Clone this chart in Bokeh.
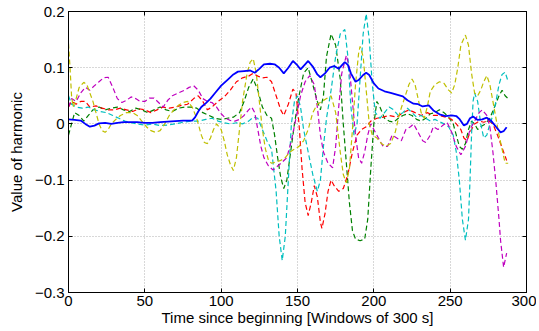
from bokeh.plotting import figure
from bokeh.models import Range1d, LinearAxis, FixedTicker, CustomJSTickFormatter
from bokeh.embed import file_html
from bokeh.resources import INLINE

# ---- data ----
x_ticks = [0, 50, 100, 150, 200, 250, 300]
y_ticks = [-0.3, -0.2, -0.1, 0.0, 0.1, 0.2]
y_tick_labels = ["\u22120.3", "\u22120.2", "\u22120.1", "0", "0.1", "0.2"]

blue_x = [0, 4, 8, 11, 14, 17, 20, 24, 28, 32, 36, 40, 45, 50, 55, 60, 65, 70, 75, 78, 81, 83, 85, 87, 90, 93, 96, 100, 104, 108, 111, 115, 119, 122, 125, 128, 132, 135, 138, 141, 144, 147, 150, 152, 155, 157, 160, 163, 165, 168, 171, 174, 177, 179, 181, 183, 185, 188, 190, 193, 195, 197, 200, 203, 207, 211, 215, 219, 222, 226, 229, 232, 236, 239, 243, 247, 251, 254, 256, 259, 261, 263, 265, 268, 271, 274, 277, 280, 283, 285, 287]
blue_y = [0.008, 0.007, 0.006, 0.0, -0.005, -0.003, 0.001, 0.002, 0.0, 0.002, 0.003, 0.003, 0.003, 0.002, 0.002, 0.003, 0.004, 0.005, 0.006, 0.006, 0.006, 0.012, 0.022, 0.03, 0.037, 0.045, 0.055, 0.068, 0.078, 0.088, 0.093, 0.094, 0.095, 0.091, 0.098, 0.106, 0.107, 0.106, 0.1, 0.09, 0.1, 0.112, 0.104, 0.097, 0.106, 0.112, 0.102, 0.088, 0.083, 0.09, 0.1, 0.103, 0.098, 0.104, 0.11, 0.105, 0.09, 0.075, 0.078, 0.087, 0.091, 0.087, 0.072, 0.063, 0.058, 0.055, 0.052, 0.049, 0.042, 0.036, 0.035, 0.031, 0.033, 0.024, 0.017, 0.014, 0.015, 0.014, 0.009, -0.003, 0.0, 0.01, 0.013, 0.007, 0.008, 0.011, 0.005, -0.005, -0.015, -0.013, -0.006]

red_x = [0, 2, 5, 8, 11, 14, 18, 22, 26, 30, 34, 38, 42, 46, 50, 54, 58, 62, 66, 70, 74, 78, 82, 85, 88, 91, 94, 98, 102, 106, 110, 114, 118, 121, 124, 127, 130, 133, 136, 139, 141, 144, 147, 149, 151, 153, 155, 157, 159, 161, 163, 165, 166, 168, 170, 172, 174, 177, 180, 183, 186, 189, 192, 195, 198, 202, 206, 210, 215, 219, 223, 227, 231, 235, 239, 243, 247, 251, 254, 257, 259, 261, 263, 266, 269, 272, 275, 278, 281, 283, 285, 287]
red_y = [0.03, 0.04, 0.035, 0.04, 0.04, 0.03, 0.032, 0.028, 0.025, 0.025, 0.028, 0.025, 0.022, 0.027, 0.025, 0.02, 0.025, 0.03, 0.028, 0.03, 0.033, 0.035, 0.045, 0.05, 0.04, 0.025, 0.03, 0.04, 0.048, 0.06, 0.075, 0.082, 0.085, 0.09, 0.085, 0.082, 0.083, 0.075, 0.05, 0.025, 0.015, 0.035, 0.062, 0.055, 0.0, -0.08, -0.14, -0.163, -0.14, -0.11, -0.13, -0.175, -0.186, -0.16, -0.12, -0.1, -0.11, -0.12, -0.115, -0.09, -0.05, -0.02, -0.01, -0.005, 0.005, 0.01, 0.012, 0.015, 0.012, 0.02, 0.025, 0.02, 0.015, 0.02, 0.015, 0.015, 0.012, 0.008, 0.0, -0.01, -0.025, -0.03, -0.015, 0.0, 0.005, 0.003, 0.006, 0.0, -0.02, -0.035, -0.05, -0.065]

green_x = [0, 2, 4, 7, 10, 13, 16, 20, 24, 28, 32, 36, 40, 44, 48, 52, 56, 60, 64, 68, 72, 76, 80, 84, 88, 92, 96, 100, 104, 108, 112, 115, 118, 121, 124, 127, 130, 133, 135, 137, 139, 141, 143, 145, 148, 151, 154, 157, 160, 163, 165, 167, 169, 172, 175, 178, 180, 182, 184, 186, 188, 191, 194, 196, 198, 200, 202, 204, 207, 210, 213, 216, 219, 222, 225, 228, 231, 234, 237, 240, 243, 246, 249, 252, 254, 256, 258, 260, 262, 264, 266, 268, 270, 273, 276, 279, 282, 284, 286, 288]
green_y = [-0.02, 0.0, 0.02, 0.015, 0.005, 0.015, 0.025, 0.03, 0.025, 0.028, 0.03, 0.025, 0.022, 0.028, 0.025, 0.02, 0.025, 0.03, 0.025, 0.022, 0.028, 0.03, 0.03, 0.028, 0.02, 0.015, 0.01, 0.008, 0.01, 0.012, 0.02, 0.04, 0.065, 0.08, 0.06, 0.03, 0.015, 0.01, -0.02, -0.06, -0.095, -0.115, -0.1, -0.06, 0.0, 0.05, 0.09, 0.1, 0.07, 0.04, 0.025, 0.05, 0.12, 0.16, 0.14, 0.08, 0.0, -0.07, -0.14, -0.19, -0.205, -0.208, -0.205, -0.17, -0.08, 0.0, 0.04, 0.03, 0.01, 0.005, 0.003, 0.01, 0.015, 0.018, 0.015, 0.008, 0.005, 0.01, 0.018, 0.02, 0.025, 0.02, 0.012, 0.0, -0.02, -0.04, -0.045, -0.035, -0.01, 0.005, 0.0, -0.01, -0.005, 0.0, 0.01, 0.03, 0.05, 0.06, 0.05, 0.045]

cyan_x = [0, 2, 5, 9, 13, 17, 21, 25, 29, 33, 37, 41, 45, 50, 55, 60, 65, 70, 75, 80, 85, 90, 94, 98, 102, 106, 110, 114, 118, 121, 124, 127, 130, 133, 136, 138, 140, 142, 144, 146, 148, 150, 152, 154, 157, 160, 163, 165, 167, 169, 172, 175, 178, 181, 183, 185, 187, 189, 191, 193, 195, 197, 199, 201, 204, 207, 210, 213, 216, 219, 222, 225, 228, 231, 234, 237, 240, 243, 246, 249, 252, 254, 256, 258, 260, 262, 263, 264, 265, 266, 268, 270, 272, 274, 276, 278, 280, 282, 284, 286, 288]
cyan_y = [0.05, 0.035, 0.03, 0.028, 0.03, 0.025, 0.022, 0.02, 0.015, 0.01, 0.005, 0.002, 0.0, -0.002, 0.0, -0.003, -0.002, 0.0, 0.003, 0.005, 0.005, 0.008, 0.01, 0.005, 0.002, 0.0, 0.002, 0.0, 0.005, 0.012, 0.01, -0.01, -0.03, -0.045, -0.12, -0.2, -0.243, -0.2, -0.1, 0.0, 0.04, 0.05, 0.03, -0.01, -0.05, -0.09, -0.12, -0.1, -0.04, 0.01, 0.06, 0.12, 0.16, 0.168, 0.12, 0.03, -0.02, 0.0, 0.08, 0.16, 0.196, 0.15, 0.07, 0.02, 0.01, 0.02, 0.03, 0.025, 0.015, 0.02, 0.028, 0.02, 0.012, 0.015, 0.01, 0.005, 0.008, 0.004, 0.0, -0.005, -0.02, -0.05, -0.1, -0.17, -0.207, -0.17, -0.1, -0.02, 0.04, 0.055, 0.04, 0.0, -0.025, -0.02, 0.0, 0.015, 0.04, 0.07, 0.088, 0.092, 0.075]

magenta_x = [0, 2, 5, 8, 11, 14, 17, 20, 23, 26, 29, 32, 35, 38, 41, 44, 47, 50, 53, 56, 59, 62, 65, 68, 72, 76, 79, 82, 85, 88, 91, 94, 97, 100, 103, 106, 109, 112, 115, 118, 120, 122, 124, 126, 128, 131, 134, 137, 140, 143, 146, 149, 152, 155, 158, 161, 163, 165, 167, 170, 173, 175, 177, 179, 182, 184, 186, 188, 190, 192, 194, 196, 198, 200, 203, 206, 209, 212, 215, 218, 221, 224, 226, 229, 232, 234, 237, 239, 242, 245, 248, 251, 254, 257, 260, 263, 266, 269, 271, 274, 276, 278, 280, 282, 283, 285, 287]
magenta_y = [0.03, 0.045, 0.04, 0.055, 0.065, 0.06, 0.068, 0.075, 0.082, 0.083, 0.065, 0.045, 0.038, 0.042, 0.048, 0.045, 0.04, 0.04, 0.046, 0.046, 0.038, 0.03, 0.042, 0.05, 0.055, 0.06, 0.065, 0.068, 0.06, 0.045, 0.04, 0.038, 0.03, 0.018, 0.01, 0.006, 0.005, 0.008, 0.015, 0.025, 0.03, 0.02, -0.01, -0.04, -0.06, -0.075, -0.082, -0.075, -0.068, -0.06, -0.03, 0.01, 0.05, 0.075, 0.086, 0.07, 0.03, -0.02, -0.05, -0.07, -0.078, -0.04, 0.03, 0.09, 0.122, 0.1, 0.04, -0.02, -0.06, -0.07, -0.05, -0.02, 0.0, -0.01, -0.025, -0.04, -0.04, -0.02, -0.025, -0.03, -0.01, -0.005, 0.0, -0.015, -0.03, -0.033, -0.02, -0.005, -0.01, -0.003, 0.003, -0.015, -0.04, -0.055, -0.04, -0.01, 0.005, 0.02, 0.025, 0.015, -0.005, -0.05, -0.106, -0.17, -0.207, -0.255, -0.23]

yellow_x = [0, 1, 2, 3, 5, 7, 10, 12, 14, 16, 18, 20, 22, 24, 26, 28, 31, 34, 38, 42, 45, 48, 51, 54, 57, 60, 63, 66, 69, 72, 75, 78, 81, 84, 87, 89, 91, 93, 95, 97, 100, 102, 104, 106, 108, 110, 112, 114, 117, 119, 121, 123, 125, 127, 129, 131, 133, 136, 139, 142, 145, 148, 151, 154, 157, 160, 163, 166, 169, 172, 175, 178, 180, 182, 184, 186, 188, 190, 191, 193, 195, 197, 199, 202, 205, 208, 211, 214, 217, 220, 223, 225, 227, 229, 231, 233, 235, 237, 240, 243, 246, 249, 251, 253, 255, 257, 260, 262, 264, 266, 268, 270, 272, 274, 276, 278, 280, 282, 284, 286, 288]
yellow_y = [0.143, 0.1, 0.05, 0.03, 0.045, 0.065, 0.074, 0.07, 0.055, 0.04, 0.02, 0.0, -0.012, -0.015, -0.01, 0.0, 0.008, 0.015, 0.02, 0.02, 0.015, 0.005, -0.005, -0.012, -0.015, -0.012, 0.0, 0.015, 0.025, 0.033, 0.038, 0.04, 0.03, 0.01, -0.02, -0.033, -0.035, -0.025, -0.01, 0.0, -0.01, -0.03, -0.055, -0.072, -0.083, -0.06, -0.01, 0.04, 0.09, 0.11, 0.116, 0.09, 0.04, -0.01, -0.045, -0.065, -0.07, -0.068, -0.065, -0.06, -0.05, -0.045, -0.04, -0.03, -0.01, 0.02, 0.035, 0.04, 0.045, 0.05, 0.02, -0.05, -0.09, -0.105, -0.08, -0.01, 0.07, 0.125, 0.138, 0.12, 0.06, 0.0, -0.02, -0.025, -0.035, -0.04, -0.035, -0.015, 0.02, 0.045, 0.07, 0.08, 0.07, 0.045, 0.02, 0.01, 0.03, 0.058, 0.07, 0.075, 0.072, 0.06, 0.055, 0.07, 0.1, 0.14, 0.158, 0.14, 0.09, 0.055, 0.05, 0.06, 0.075, 0.086, 0.07, 0.04, 0.01, -0.02, -0.045, -0.07, -0.07]

dashed_series = [
    (green_x, green_y, "#008000"),
    (red_x, red_y, "#ff0000"),
    (cyan_x, cyan_y, "#00bfbf"),
    (magenta_x, magenta_y, "#bf00bf"),
    (yellow_x, yellow_y, "#bfbf00"),
]

FONT = "Liberation Sans"

p = figure(width=536, height=328, output_backend="svg", toolbar_location=None,
           x_range=Range1d(0, 300), y_range=Range1d(-0.3, 0.2),
           min_border_left=68, min_border_right=10, min_border_top=11, min_border_bottom=36)
p.background_fill_color = "white"
p.border_fill_color = "white"
p.outline_line_color = "black"
p.outline_line_width = 1

for xs, ys, col in dashed_series:
    p.line(xs, ys, line_color=col, line_width=1.2, line_dash="5 3")
p.line(blue_x, blue_y, line_color="#0000ff", line_width=1.8)

xt = FixedTicker(ticks=x_ticks)
yt = FixedTicker(ticks=y_ticks)
p.xaxis.ticker = xt
p.yaxis.ticker = yt
p.yaxis.major_label_overrides = {t: l for t, l in zip(y_ticks, y_tick_labels)}

for ax in [p.xaxis[0], p.yaxis[0]]:
    ax.major_tick_in = 4
    ax.major_tick_out = 0
    ax.minor_tick_line_color = None
    ax.axis_line_color = "black"
    ax.major_tick_line_color = "black"
    ax.major_label_text_font = FONT
    ax.major_label_text_font_size = "15px"
    ax.major_label_text_color = "black"
    ax.axis_label_text_font = FONT
    ax.axis_label_text_font_size = "15px"
    ax.axis_label_text_font_style = "normal"
    ax.axis_label_text_color = "black"

p.xaxis.axis_label = "Time since beginning [Windows of 300 s]"
p.yaxis.axis_label = "Value of harmonic"
p.xaxis.major_label_standoff = 3
p.xaxis.axis_label_standoff = 0
p.yaxis.major_label_standoff = 4
p.yaxis.axis_label_standoff = 7

blank = CustomJSTickFormatter(code="return ''")
top = LinearAxis(ticker=FixedTicker(ticks=x_ticks), formatter=blank)
right = LinearAxis(ticker=FixedTicker(ticks=y_ticks), formatter=blank)
for ax in [top, right]:
    ax.major_tick_in = 4
    ax.major_tick_out = 0
    ax.minor_tick_line_color = None
    ax.major_label_text_font_size = "0px"
    ax.major_label_standoff = 0
    ax.axis_line_color = "black"
p.add_layout(top, "above")
p.add_layout(right, "right")

p.xgrid.ticker = xt
p.ygrid.ticker = yt
for g in [p.xgrid[0], p.ygrid[0]]:
    g.grid_line_color = "#b0b0b0"
    g.grid_line_dash = "1 2"
    g.grid_line_width = 1

open("out.html", "w").write(file_html(p, INLINE))
